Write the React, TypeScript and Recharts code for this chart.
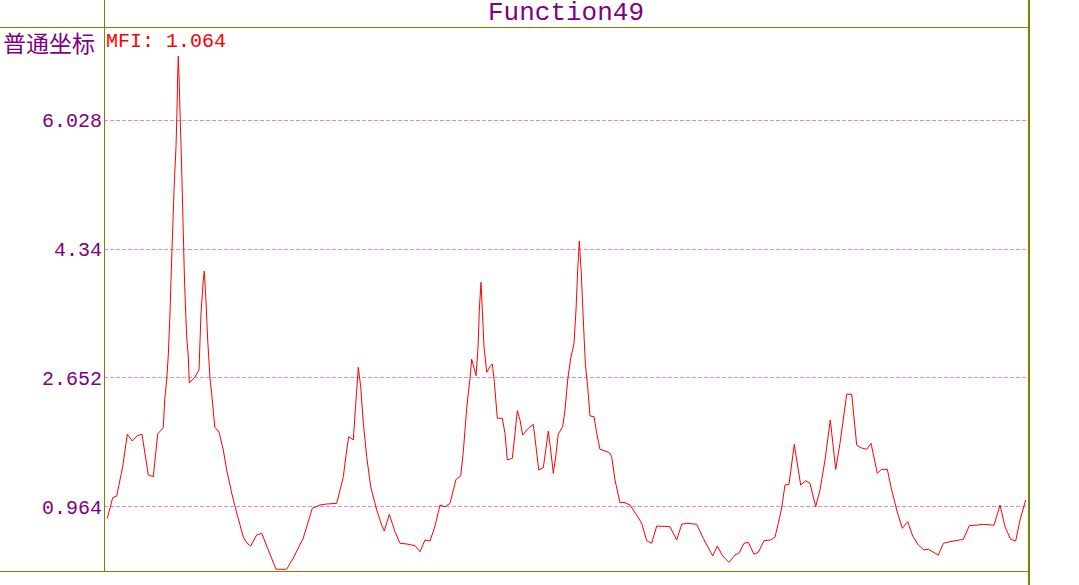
import { LineChart, Line, XAxis, YAxis, CartesianGrid, ReferenceLine } from 'recharts'

// sample positions along the trace (0 = left edge of plot, 924 = right edge)
const xs = [
    3.3, 8.7, 12.7, 18.7, 23.3, 28.3, 33.3, 38, 44.3, 49.3, 53.7, 59.3, 60.7, 62.7, 64.3, 66, 67.3, 69, 70.3, 72,
    73, 73.7, 74.3, 75, 76, 77.3, 78.3, 79.3, 80.3, 81.3, 82.7, 84.3, 85.3, 91, 95, 97, 99.3, 100.3, 102, 103.7,
    106, 108.3, 110.7, 115, 119.3, 122.7, 127.7, 132.7, 139.3, 142.7, 146.7, 152.7, 157.7, 164.3, 172, 182.7, 189.3, 199.3, 208.3, 216,
    222.7, 232.7, 235.3, 239.3, 242.7, 244.7, 249.3, 252, 254.3, 256.7, 259.3, 262.7, 266.7, 272.7, 277.7, 280.3, 285.3, 291, 296, 302.7,
    311, 316, 321, 326, 331, 336, 341, 346, 352, 356.7, 359.3, 362.7, 366, 367.7, 369.3, 372, 374, 375.3, 377, 378.3,
    380, 382.7, 386, 388.3, 390.3, 393.3, 398.3, 401, 403.3, 408.3, 411, 413.3, 416, 418.7, 424.3, 429.3, 432, 434.7, 439.3, 442,
    444.3, 446.7, 449.3, 451.7, 454.3, 458.7, 461, 463.7, 466.7, 470, 472, 473.7, 475.3, 477.3, 479.3, 481.3, 483.7, 486, 490, 492.7,
    496, 501, 505.3, 507.7, 511, 516, 520, 526, 532.7, 537.7, 542.7, 547.7, 552.7, 566, 572.7, 577.7, 582.7, 592.7, 599.3, 608.7,
    613.3, 618.7, 625, 631, 635.3, 640, 644.3, 650, 654.3, 660, 666.7, 671, 674.3, 677.7, 681, 685, 690.3, 692.7, 696.7, 701.7,
    706, 711.7, 716, 721, 726.3, 731.7, 736, 742.7, 747.7, 752.7, 756.7, 762.7, 767, 773.3, 777.7, 783.3, 787.7, 792.7, 798.3, 803.7,
    808.7, 814.3, 820, 824.3, 834.3, 839.3, 846, 859.3, 865.3, 873.3, 879.3, 890, 896, 901, 906.7, 911.7, 916, 921.7,
]

const mfi = [
    0.816, 1.086, 1.108, 1.491, 1.915, 1.828, 1.897, 1.915, 1.383, 1.36, 1.919, 2.002, 2.364, 2.626, 2.953, 3.502, 4.065, 4.719, 5.204, 5.675,
    6.159, 6.617, 6.865, 6.617, 6.133, 5.57, 5.073, 4.549, 4.026, 3.633, 3.188, 2.927, 2.587, 2.665, 2.757, 3.502, 3.934, 4.052, 3.646, 3.149,
    2.652, 2.364, 2.011, 1.945, 1.71, 1.448, 1.147, 0.885, 0.571, 0.493, 0.454, 0.598, 0.62, 0.401, 0.149, 0.149, 0.297, 0.558, 0.947, 0.99,
    1.003, 1.012, 1.147, 1.36, 1.71, 1.884, 1.841, 2.364, 2.792, 2.538, 2.063, 1.622, 1.23, 0.925, 0.728, 0.65, 0.868, 0.641, 0.489, 0.48,
    0.458, 0.379, 0.532, 0.519, 0.715, 0.99, 0.968, 1.012, 1.326, 1.37, 1.688, 2.255, 2.648, 2.897, 2.822, 2.682, 3.041, 3.542, 3.904, 3.542,
    3.062, 2.727, 2.8, 2.835, 2.604, 2.125, 2.125, 1.928, 1.579, 1.601, 1.928, 2.224, 2.102, 1.906, 1.994, 2.046, 1.753, 1.448, 1.478, 1.732,
    1.958, 1.71, 1.405, 1.622, 1.919, 2.015, 2.233, 2.626, 2.91, 3.106, 3.542, 4.065, 4.445, 4.022, 3.411, 2.844, 2.538, 2.155, 2.146, 1.928,
    1.719, 1.697, 1.675, 1.622, 1.317, 1.02, 1.025, 0.99, 0.859, 0.751, 0.523, 0.489, 0.715, 0.706, 0.532, 0.738, 0.751, 0.738, 0.554, 0.323,
    0.454, 0.323, 0.24, 0.336, 0.366, 0.489, 0.502, 0.345, 0.371, 0.523, 0.532, 0.571, 0.751, 0.955, 1.252, 1.261, 1.784, 1.579, 1.252, 1.308,
    1.274, 0.968, 1.186, 1.579, 2.102, 1.457, 1.798, 2.439, 2.439, 1.775, 1.74, 1.719, 1.798, 1.405, 1.457, 1.457, 1.186, 0.925, 0.685, 0.772,
    0.585, 0.467, 0.401, 0.411, 0.336, 0.489, 0.51, 0.541, 0.719, 0.728, 0.738, 0.725, 0.99, 0.706, 0.541, 0.519, 0.794, 1.056,
]

const yTicks = [0.964, 2.652, 4.34, 6.028]
const tickLabels = ['0.964', '2.652', '4.34', '6.028']

const X_MAX = 924
const Y_MIN = 0.1265
const Y_MAX = 7.245
// value range covered by the outer frame (whole svg height)
const FRAME_TOP = 7.598
const FRAME_BOTTOM = -0.057

const data = xs.map((x, i) => ({ x, mfi: mfi[i] }))

const OLIVE = '#808000'
const PURPLE = '#800080'
const MONO = '"Liberation Mono", monospace'

export default function App() {
    return (
        <div style={{ position: 'relative', width: 1079, height: 585, background: '#fff' }}>
            <style>{'body{margin:0}'}</style>
            <LineChart width={1079} height={585} data={data} margin={{ top: 27, right: 51, bottom: 14, left: 0 }}>
                <CartesianGrid
                    horizontal
                    vertical={false}
                    stroke="#EE82EE"
                    strokeDasharray="4 2"
                    shapeRendering="crispEdges"
                />
                <XAxis type="number" dataKey="x" domain={[0, X_MAX]} hide />
                <YAxis
                    type="number"
                    domain={[Y_MIN, Y_MAX]}
                    ticks={yTicks}
                    tickFormatter={(v: number) => tickLabels[yTicks.indexOf(v)] ?? String(v)}
                    width={104}
                    tickLine={false}
                    tickSize={0}
                    tickMargin={2}
                    axisLine={{ stroke: OLIVE, shapeRendering: 'crispEdges' }}
                    tick={{ fill: PURPLE, fontSize: 20, fontFamily: MONO }}
                    allowDataOverflow
                />
                {/* outer frame */}
                <ReferenceLine
                    segment={[{ x: -104, y: Y_MAX }, { x: X_MAX, y: Y_MAX }]}
                    stroke={OLIVE}
                    shapeRendering="crispEdges"
                    ifOverflow="visible"
                />
                <ReferenceLine
                    segment={[{ x: -104, y: Y_MIN }, { x: X_MAX, y: Y_MIN }]}
                    stroke={OLIVE}
                    shapeRendering="crispEdges"
                    ifOverflow="visible"
                />
                <ReferenceLine
                    segment={[{ x: 0, y: FRAME_TOP }, { x: 0, y: Y_MIN }]}
                    stroke={OLIVE}
                    shapeRendering="crispEdges"
                    ifOverflow="visible"
                />
                <ReferenceLine
                    segment={[{ x: X_MAX + 0.5, y: FRAME_TOP }, { x: X_MAX + 0.5, y: FRAME_BOTTOM }]}
                    stroke={OLIVE}
                    strokeWidth={2}
                    shapeRendering="crispEdges"
                    ifOverflow="visible"
                />
                <Line
                    type="linear"
                    dataKey="mfi"
                    stroke="#FF0000"
                    strokeWidth={1}
                    dot={false}
                    isAnimationActive={false}
                />
            </LineChart>
            <div
                style={{
                    position: 'absolute', left: 104, top: 0, width: 924, textAlign: 'center',
                    fontFamily: MONO, fontSize: 26, lineHeight: '26px', color: PURPLE,
                }}
            >
                Function49
            </div>
            <div
                style={{
                    position: 'absolute', left: 3, top: 30, fontFamily: '"Noto Sans CJK SC", sans-serif',
                    fontSize: 23, lineHeight: '24px', color: PURPLE,
                }}
            >
                普通坐标
            </div>
            <div
                style={{
                    position: 'absolute', left: 106, top: 32, fontFamily: MONO,
                    fontSize: 20, lineHeight: '20px', color: '#FF0000', whiteSpace: 'pre',
                }}
            >
                MFI: 1.064
            </div>
        </div>
    )
}
